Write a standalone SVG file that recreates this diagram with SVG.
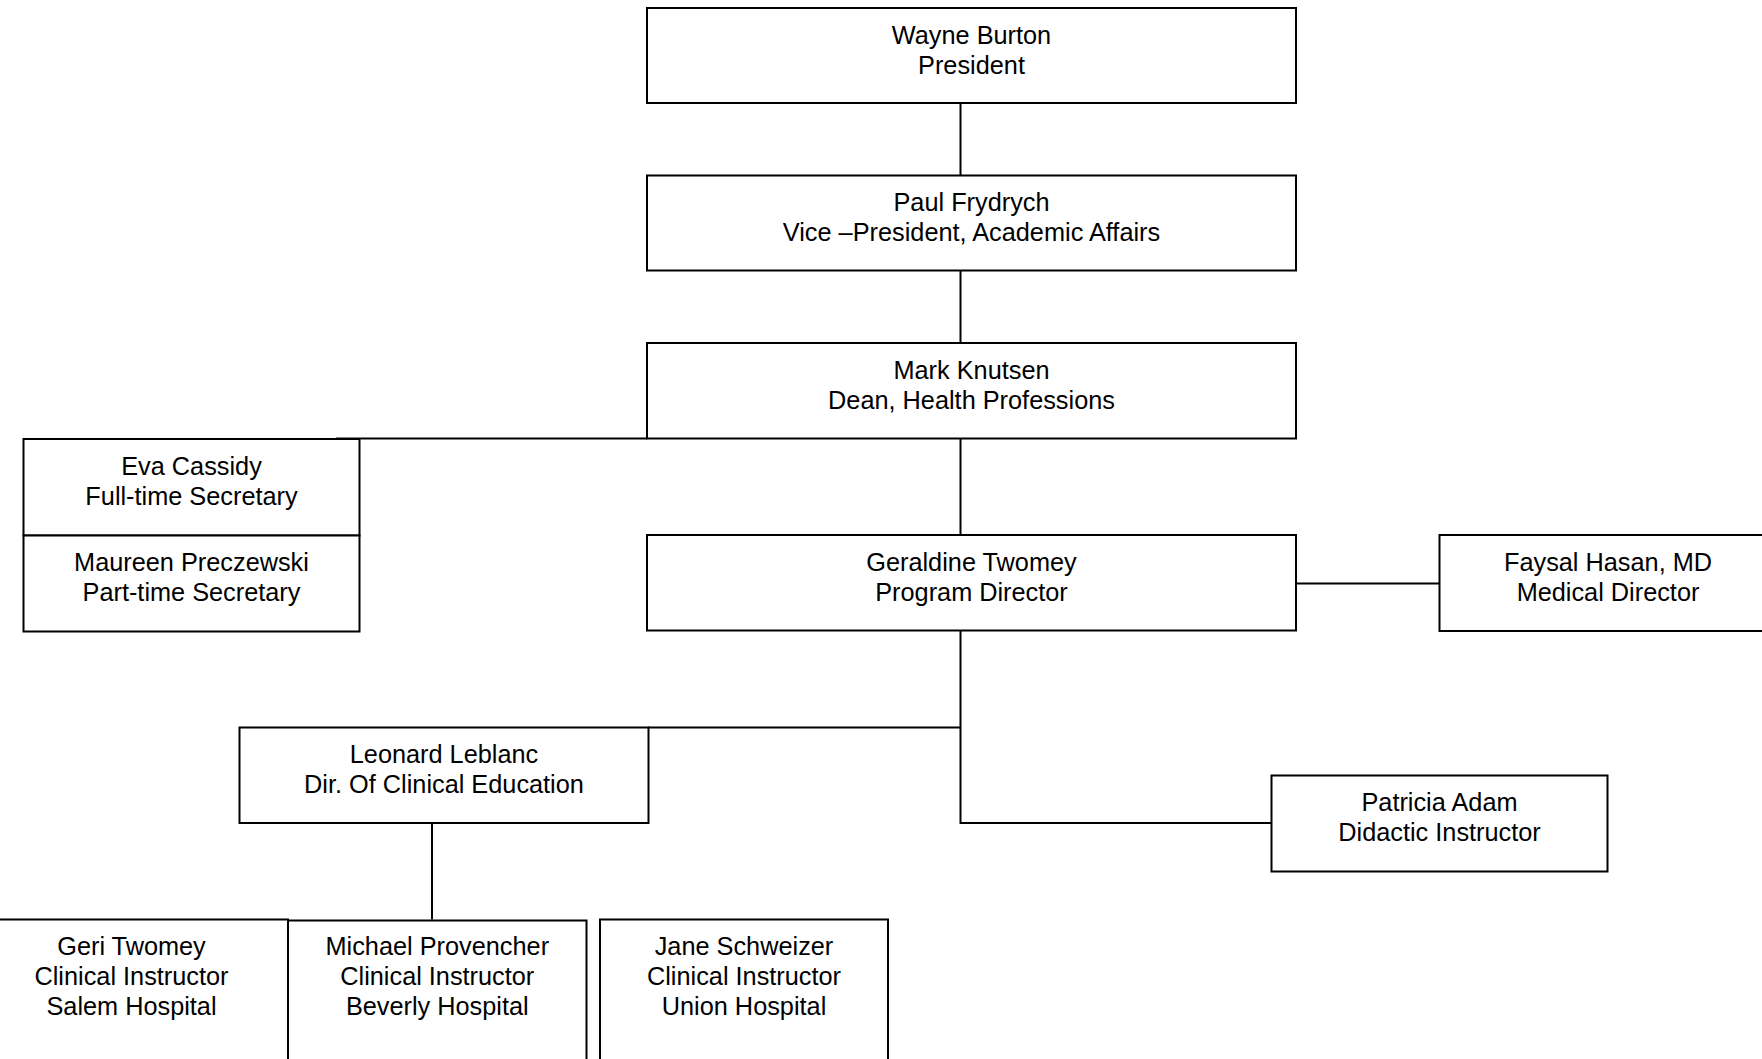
<svg xmlns="http://www.w3.org/2000/svg" width="1762" height="1059" viewBox="0 0 1762 1059">
<style>
.box{fill:#fff;stroke:#000;stroke-width:2}
.ln{stroke:#000;stroke-width:2;fill:none}
text{font-family:"Liberation Sans",Arial,sans-serif;font-size:25.3px;fill:#000;text-anchor:middle}
</style>
<rect width="1762" height="1059" fill="#fff"/>
<g id="connectors">
<line class="ln" x1="960.5" y1="103" x2="960.5" y2="175.5"/>
<line class="ln" x1="960.5" y1="270.5" x2="960.5" y2="343"/>
<line class="ln" x1="960.5" y1="438.5" x2="960.5" y2="535"/>
<line class="ln" x1="336" y1="438.5" x2="647" y2="438.5"/>
<line class="ln" x1="1296" y1="583.5" x2="1439.5" y2="583.5"/>
<polyline class="ln" points="648,727.5 960.5,727.5 960.5,630.5 960.5,823 1271.5,823"/>
<line class="ln" x1="432" y1="823" x2="432" y2="919.5"/>
</g>
<g id="wayne">
<rect class="box" x="647" y="8" width="649" height="95"/>
<text x="971.5" y="44">Wayne Burton</text>
<text x="971.5" y="74">President</text>
</g>
<g id="paul">
<rect class="box" x="647" y="175.5" width="649" height="95"/>
<text x="971.5" y="211">Paul Frydrych</text>
<text x="971.5" y="241">Vice –President, Academic Affairs</text>
</g>
<g id="mark">
<rect class="box" x="647" y="343" width="649" height="95.5"/>
<text x="971.5" y="378.5">Mark Knutsen</text>
<text x="971.5" y="408.5">Dean, Health Professions</text>
</g>
<g id="eva">
<rect class="box" x="23.5" y="439" width="336" height="96.5"/>
<text x="191.5" y="475">Eva Cassidy</text>
<text x="191.5" y="505">Full-time Secretary</text>
</g>
<g id="maureen">
<rect class="box" x="23.5" y="535.5" width="336" height="96"/>
<text x="191.5" y="570.5">Maureen Preczewski</text>
<text x="191.5" y="600.5">Part-time Secretary</text>
</g>
<g id="geraldine">
<rect class="box" x="647" y="535" width="649" height="95.5"/>
<text x="971.5" y="570.5">Geraldine Twomey</text>
<text x="971.5" y="600.5">Program Director</text>
</g>
<g id="faysal">
<rect class="box" x="1439.5" y="535" width="337" height="96"/>
<text x="1608" y="570.5">Faysal Hasan, MD</text>
<text x="1608" y="600.5">Medical Director</text>
</g>
<g id="leonard">
<rect class="box" x="239.5" y="727.5" width="409" height="95.5"/>
<text x="444" y="762.5">Leonard Leblanc</text>
<text x="444" y="792.5">Dir. Of Clinical Education</text>
</g>
<g id="patricia">
<rect class="box" x="1271.5" y="775.5" width="336" height="96"/>
<text x="1439.5" y="810.5">Patricia Adam</text>
<text x="1439.5" y="840.5">Didactic Instructor</text>
</g>
<g id="geri">
<rect class="box" x="-25" y="919.5" width="313" height="200"/>
<text x="131.5" y="954.5">Geri Twomey</text>
<text x="131.5" y="984.5">Clinical Instructor</text>
<text x="131.5" y="1014.5">Salem Hospital</text>
</g>
<g id="michael">
<rect class="box" x="288" y="920.5" width="298.5" height="200"/>
<text x="437.3" y="954.5">Michael Provencher</text>
<text x="437.3" y="984.5">Clinical Instructor</text>
<text x="437.3" y="1014.5">Beverly Hospital</text>
</g>
<g id="jane">
<rect class="box" x="600" y="919.5" width="288" height="200"/>
<text x="744" y="954.5">Jane Schweizer</text>
<text x="744" y="984.5">Clinical Instructor</text>
<text x="744" y="1014.5">Union Hospital</text>
</g>
</svg>
